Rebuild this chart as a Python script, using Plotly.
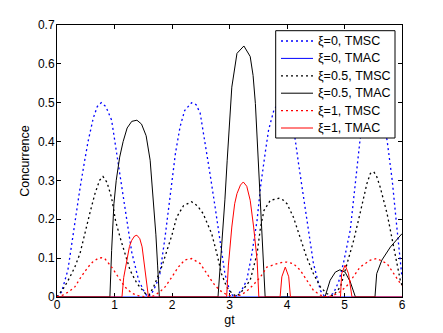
import plotly.graph_objects as go

# ---- data ----
x_xi0_tmsc = [0.00, 0.08, 0.19, 0.25, 0.32, 0.40, 0.48, 0.54, 0.63, 0.70, 0.77, 0.85, 0.95, 1.04, 1.13,
              1.21, 1.30, 1.42, 1.53, 1.58, 1.65, 1.72, 1.79, 1.88, 1.97, 2.06, 2.14, 2.22, 2.34, 2.42,
              2.49, 2.57, 2.66, 2.75, 2.83, 2.92, 3.01, 3.08, 3.14, 3.22, 3.30, 3.39, 3.48, 3.54, 3.62,
              3.68, 3.77, 3.85, 3.92, 4.00, 4.08, 4.14, 4.20, 4.29, 4.37, 4.46, 4.58, 4.64, 4.72, 4.81,
              4.90, 4.98, 5.10, 5.19, 5.27, 5.36, 5.45, 5.54, 5.64, 5.74, 5.83, 5.91, 5.97, 6.00]
y_xi0_tmsc = [0.000, 0.013, 0.070, 0.130, 0.205, 0.280, 0.350, 0.400, 0.460, 0.490, 0.500, 0.490, 0.455, 0.370, 0.284,
              0.200, 0.115, 0.043, 0.010, 0.000, 0.010, 0.030, 0.060, 0.155, 0.260, 0.370, 0.438, 0.480, 0.500, 0.495,
              0.473, 0.404, 0.318, 0.231, 0.146, 0.060, 0.012, 0.000, 0.005, 0.020, 0.043, 0.112, 0.198, 0.284, 0.370,
              0.430, 0.480, 0.500, 0.505, 0.490, 0.450, 0.408, 0.344, 0.258, 0.172, 0.086, 0.017, 0.004, 0.000, 0.010,
              0.040, 0.086, 0.172, 0.300, 0.404, 0.470, 0.500, 0.500, 0.470, 0.404, 0.300, 0.180, 0.090, 0.050]

x_xi0_tmac = [0.0, 6.0]
y_xi0_tmac = [0.0, 0.0]

x_xi05_tmsc = [0.00, 0.13, 0.22, 0.31, 0.40, 0.48, 0.57, 0.66, 0.74, 0.80, 0.87, 0.95, 1.02, 1.10, 1.18,
               1.27, 1.39, 1.53, 1.60, 1.68, 1.82, 1.94, 2.00, 2.08, 2.20, 2.34, 2.44, 2.54, 2.69, 2.78,
               2.86, 2.95, 3.05, 3.12, 3.19, 3.36, 3.48, 3.54, 3.60, 3.71, 3.86, 3.94, 4.00, 4.11, 4.23,
               4.34, 4.46, 4.58, 4.69, 4.80, 4.93, 5.04, 5.16, 5.27, 5.39, 5.45, 5.51, 5.56, 5.62, 5.74,
               5.83, 5.91, 5.97, 6.00]
y_xi05_tmsc = [0.000, 0.026, 0.050, 0.077, 0.112, 0.163, 0.215, 0.266, 0.300, 0.310, 0.295, 0.255, 0.195, 0.152, 0.112,
               0.069, 0.035, 0.010, 0.005, 0.026, 0.077, 0.129, 0.160, 0.205, 0.235, 0.245, 0.235, 0.215, 0.163, 0.112,
               0.060, 0.026, 0.008, 0.002, 0.010, 0.043, 0.112, 0.180, 0.223, 0.249, 0.254, 0.249, 0.240, 0.206, 0.155,
               0.103, 0.060, 0.026, 0.009, 0.003, 0.026, 0.086, 0.146, 0.215, 0.292, 0.318, 0.322, 0.310, 0.283, 0.215,
               0.146, 0.086, 0.043, 0.030]

x_xi05_tmac = [0.00, 0.92, 0.95, 0.99, 1.03, 1.09, 1.15, 1.22, 1.30, 1.39, 1.47, 1.55, 1.62, 1.68, 1.72,
               1.75, 1.78, 2.80, 2.86, 2.92, 2.96, 3.04, 3.13, 3.25, 3.36, 3.41, 3.45, 3.51, 3.57, 3.62,
               4.66, 4.75, 4.84, 4.92, 5.01, 5.10, 5.19, 5.53, 5.56, 5.65, 5.80, 6.00]
y_xi05_tmac = [0.000, 0.000, 0.120, 0.240, 0.300, 0.360, 0.400, 0.435, 0.452, 0.455, 0.445, 0.415, 0.352, 0.250, 0.160,
               0.080, 0.000, 0.000, 0.120, 0.250, 0.352, 0.540, 0.627, 0.646, 0.619, 0.570, 0.498, 0.327, 0.155, 0.000,
               0.000, 0.043, 0.064, 0.070, 0.064, 0.039, 0.000, 0.000, 0.060, 0.095, 0.129, 0.163]

x_xi1_tmsc = [0.00, 0.10, 0.20, 0.31, 0.42, 0.54, 0.62, 0.71, 0.77, 0.83, 0.95, 1.07, 1.18, 1.30, 1.42,
              1.55, 1.68, 1.78, 1.88, 1.96, 2.03, 2.11, 2.22, 2.34, 2.49, 2.60, 2.72, 2.83, 2.95, 3.08,
              3.20, 3.30, 3.42, 3.54, 3.65, 3.83, 3.94, 4.00, 4.11, 4.23, 4.34, 4.46, 4.58, 4.70, 4.82,
              4.94, 5.05, 5.16, 5.27, 5.45, 5.56, 5.74, 5.85, 5.97, 6.00]
y_xi1_tmsc = [0.000, 0.005, 0.013, 0.026, 0.052, 0.077, 0.090, 0.099, 0.101, 0.099, 0.077, 0.052, 0.026, 0.010, 0.003,
              0.000, 0.003, 0.012, 0.026, 0.043, 0.058, 0.077, 0.095, 0.099, 0.086, 0.060, 0.035, 0.017, 0.006, 0.001,
              0.005, 0.015, 0.032, 0.052, 0.077, 0.086, 0.090, 0.090, 0.086, 0.069, 0.043, 0.017, 0.005, 0.000, 0.005,
              0.015, 0.030, 0.052, 0.077, 0.095, 0.099, 0.086, 0.060, 0.035, 0.030]

x_xi1_tmac = [0.00, 1.13, 1.16, 1.21, 1.26, 1.30, 1.35, 1.39, 1.44, 1.48, 1.53, 1.56, 1.59, 2.95, 2.98,
              3.04, 3.09, 3.13, 3.19, 3.24, 3.30, 3.36, 3.42, 3.48, 3.51, 3.88, 3.91, 3.97, 4.03, 4.06,
              4.93, 4.95, 5.01, 5.07, 5.13, 6.00]
y_xi1_tmac = [0.000, 0.000, 0.050, 0.095, 0.130, 0.146, 0.157, 0.159, 0.150, 0.129, 0.069, 0.035, 0.000, 0.000, 0.080,
              0.180, 0.240, 0.266, 0.288, 0.296, 0.285, 0.249, 0.180, 0.095, 0.000, 0.000, 0.052, 0.077, 0.052, 0.000,
              0.000, 0.060, 0.082, 0.060, 0.000, 0.000]

x_ticks = [0, 1, 2, 3, 4, 5, 6]
y_ticks = [0, 0.1, 0.2, 0.3, 0.4, 0.5, 0.6, 0.7]

series = [
    ("ξ=0, TMSC", x_xi0_tmsc, y_xi0_tmsc, "#0000ff", "dot"),
    ("ξ=0, TMAC", x_xi0_tmac, y_xi0_tmac, "#0000ff", "solid"),
    ("ξ=0.5, TMSC", x_xi05_tmsc, y_xi05_tmsc, "#000000", "dot"),
    ("ξ=0.5, TMAC", x_xi05_tmac, y_xi05_tmac, "#000000", "solid"),
    ("ξ=1, TMSC", x_xi1_tmsc, y_xi1_tmsc, "#ff0000", "dot"),
    ("ξ=1, TMAC", x_xi1_tmac, y_xi1_tmac, "#ff0000", "solid"),
]

def line_style(col, style):
    if style == "dot":
        return dict(color=col, width=1.3, dash="2px,3px")
    return dict(color=col, width=1)

fig = go.Figure()
for name, xs, ys, col, style in series:
    fig.add_trace(go.Scatter(x=xs, y=ys, mode="lines", name=name, line=line_style(col, style),
                             showlegend=False))

# ---- figure geometry (pixels) ----
W, H = 435, 325
ML, MR, MT, MB = 49, 41, 17, 36
PW, PH = W - ML - MR, H - MT - MB

def px(x):  # figure pixel -> paper x
    return (x - ML) / PW

def py(y):  # figure pixel -> paper y
    return (H - MB - y) / PH

# ---- hand-built legend (MATLAB-like compact rows) ----
font_family = "Liberation Sans, Arial, Helvetica, sans-serif"
LEG_L, LEG_T, LEG_R, LEG_B = 267.7, 22.7, 387.0, 130.0
ROW0, ROW_DY = 33.0, 17.4
SAMPLE_X0, SAMPLE_X1, TEXT_X = 273.0, 305.0, 308.0

shapes = [dict(type="rect", xref="paper", yref="paper",
               x0=px(LEG_L), x1=px(LEG_R), y0=py(LEG_B), y1=py(LEG_T),
               line=dict(color="black", width=1), fillcolor="white", layer="above")]
annotations = []
for i, (name, xs, ys, col, style) in enumerate(series):
    yc = ROW0 + i * ROW_DY
    shapes.append(dict(type="line", xref="paper", yref="paper",
                       x0=px(SAMPLE_X0), x1=px(SAMPLE_X1), y0=py(yc), y1=py(yc),
                       line=line_style(col, style), layer="above"))
    annotations.append(dict(xref="paper", yref="paper", x=px(TEXT_X), y=py(yc),
                            xanchor="left", yanchor="middle", showarrow=False, text=name,
                            font=dict(family=font_family, size=12.5, color="black")))

axis_common = dict(
    showgrid=False, zeroline=False, showline=True, linecolor="black", linewidth=1,
    mirror="ticks", ticks="inside", ticklen=4, tickwidth=1, tickcolor="black",
    tickfont=dict(family=font_family, size=12, color="black"),
    layer="below traces", automargin=False,
)
fig.update_layout(
    width=W, height=H,
    margin=dict(l=ML, r=MR, t=MT, b=MB, autoexpand=False),
    paper_bgcolor="white", plot_bgcolor="white",
    font=dict(family=font_family, size=12, color="black"),
    xaxis=dict(range=[0, 6], tickvals=x_ticks, ticktext=[str(v) for v in x_ticks],
               ticklabelstandoff=-3,
               title=dict(text="gt", standoff=3, font=dict(size=12.5)), **axis_common),
    yaxis=dict(range=[0, 0.7], tickvals=y_ticks, ticktext=["0" if v == 0 else str(v) for v in y_ticks],
               ticklabelstandoff=-1,
               title=dict(text="Concurrence", standoff=5, font=dict(size=12.5)), **axis_common),
    shapes=shapes,
    annotations=annotations,
    showlegend=False,
)

fig.write_html("out.html")
